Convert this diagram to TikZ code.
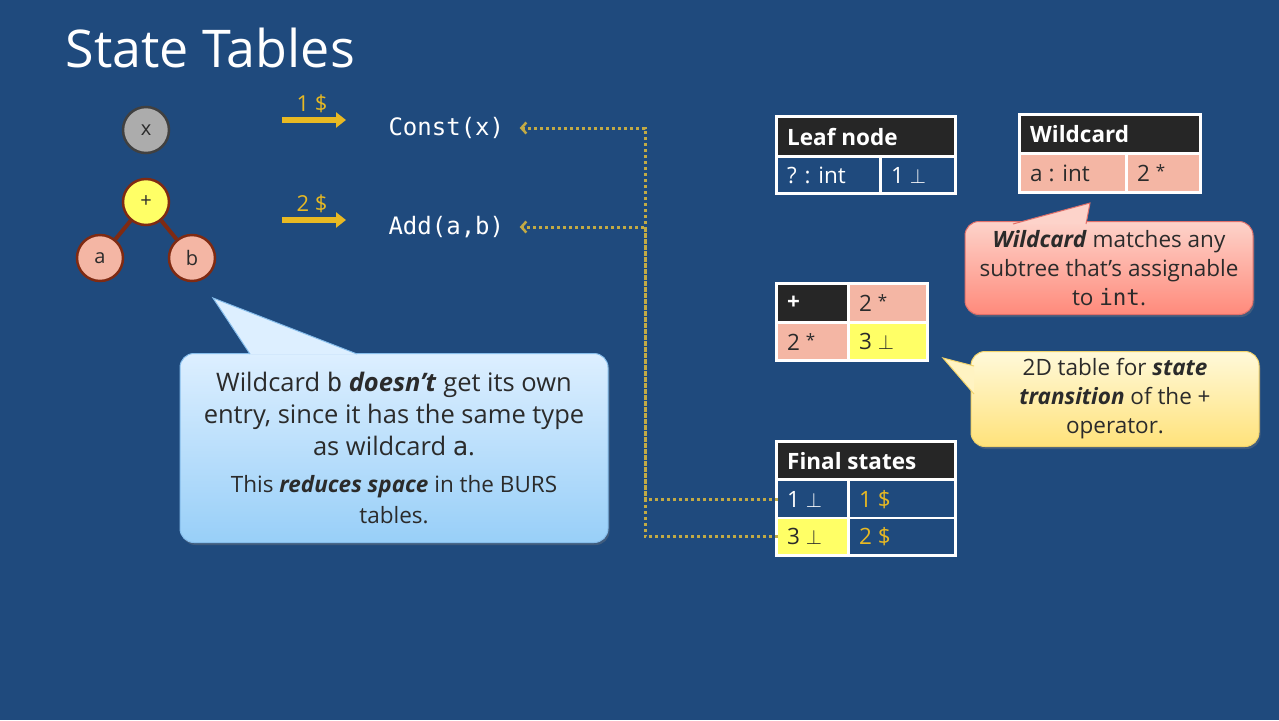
\documentclass[tikz,border=0pt]{standalone}
\usepackage{fontspec}
\setmainfont{Open Sans}
\setmonofont{DejaVu Sans Mono}
\usetikzlibrary{arrows.meta,shadows}

\definecolor{slide}{HTML}{1F4A7D}
\definecolor{hdr}{HTML}{262626}
\definecolor{salmon}{HTML}{F4B6A4}
\definecolor{lemon}{HTML}{FFFF66}
\definecolor{gold}{HTML}{E8B923}
\definecolor{dotgold}{HTML}{C2AA45}
\definecolor{rust}{HTML}{7F2A12}
\definecolor{ink}{HTML}{2B2B2B}
\definecolor{redtop}{HTML}{FDD3CA}
\definecolor{redbot}{HTML}{FF8A7B}
\definecolor{redline}{HTML}{E0706A}
\definecolor{yeltop}{HTML}{FFF9DA}
\definecolor{yelbot}{HTML}{FFE27A}
\definecolor{yelline}{HTML}{F2D36B}
\definecolor{blutop}{HTML}{DDEFFF}
\definecolor{blubot}{HTML}{98CFF8}
\definecolor{bluline}{HTML}{86BDEB}

\tikzset{
  leaf/.style={circle, minimum size=46pt, inner sep=0pt, line width=2.5pt, draw=rust, text=ink, font=\fontsize{20}{22}\selectfont},
  treeedge/.style={rust, line width=4pt},
  cell/.style={anchor=north west, inner xsep=9pt, inner ysep=0pt, align=flush left, font=\fontsize{22.5}{25}\selectfont},
  cost/.style={gold, line width=6pt, -{Triangle[length=10pt,width=15pt]}},
  dotline/.style={dotgold, line width=3pt, dash pattern=on 3pt off 3pt, -{Straight Barb[length=5pt,width=11pt,line width=2.5pt]}, shorten >=12pt},
  note/.style={rounded corners=14pt, line width=1pt, text=ink, align=center, drop shadow={opacity=.35, shadow xshift=1.5pt, shadow yshift=-2.5pt}},
}

\begin{document}
\begin{tikzpicture}[x=1pt,y=-1pt]
\fill[slide] (0,0) rectangle (1279,720);
\useasboundingbox (0,0) rectangle (1279,720);

\node[anchor=base west, text=white, font=\fontsize{52}{60}\selectfont] (title) at (62,67) {State Tables};

% trees
\node[leaf, fill=gray!65, draw=black!75] (x) at (146,130) {x};
\node[leaf, fill=lemon] (plus) at (146,202) {+};
\node[leaf, fill=salmon] (a) at (100,258) {a};
\node[leaf, fill=salmon] (b) at (192,258) {b};
\draw[treeedge] (plus) -- (a);
\draw[treeedge] (plus) -- (b);

% costs
\draw[cost] (282,120) -- (346,120);
\node[text=gold, font=\fontsize{22}{24}\selectfont] (c1) at (312,104) {1 \$};
\draw[cost] (282,220) -- (346,220);
\node[text=gold, font=\fontsize{22}{24}\selectfont] (c2) at (312,204) {2 \$};

\node[anchor=west, text=white, font=\ttfamily\fontsize{24}{26}\selectfont] (cx) at (385,128) {Const(x)};
\node[anchor=west, text=white, font=\ttfamily\fontsize{24}{26}\selectfont] (ad) at (385,227) {Add(a,b)};

% leaf node table
\fill[white] (775,115) rectangle (957,195);
\node[cell, fill=hdr, text=white, font=\bfseries\fontsize{22.5}{25}\selectfont, text width=158pt, minimum height=37pt] (leafh) at (778,118) {Leaf node};
\node[cell, fill=slide, text=white, text width=83pt, minimum height=34pt] (leafa) at (778,158) {? : int};
\node[cell, fill=slide, text=white, text width=54pt, minimum height=34pt] (leafb) at (882,158) {1 $\perp$};

% wildcard table
\fill[white] (1018,113) rectangle (1202,194);
\node[cell, fill=hdr, text=white, font=\bfseries\fontsize{22.5}{25}\selectfont, text width=160pt, minimum height=36pt] (wildh) at (1021,116) {Wildcard};
\node[cell, fill=salmon, text=ink, text width=86pt, minimum height=36pt] (wilda) at (1021,155) {a : int};
\node[cell, fill=salmon, text=ink, text width=53pt, minimum height=36pt] (wildb) at (1128,155) {2 \raisebox{4pt}{\fontsize{17}{17}\selectfont*}};

% + table
\fill[white] (775,282) rectangle (929,362);
\node[cell, fill=hdr, text=white, font=\bfseries\fontsize{22.5}{25}\selectfont, text width=51pt, minimum height=36pt] (plush) at (778,285) {+};
\node[cell, fill=salmon, text=ink, text width=58pt, minimum height=36pt] (plusb) at (850,285) {2 \raisebox{4pt}{\fontsize{17}{17}\selectfont*}};
\node[cell, fill=salmon, text=ink, text width=51pt, minimum height=35pt] (plusc) at (778,324) {2 \raisebox{4pt}{\fontsize{17}{17}\selectfont*}};
\node[cell, fill=lemon, text=ink, text width=58pt, minimum height=35pt] (plusd) at (850,324) {3 $\perp$};

% final states table
\fill[white] (775,440) rectangle (957,557);
\node[cell, fill=hdr, text=white, font=\bfseries\fontsize{22.5}{25}\selectfont, text width=158pt, minimum height=35pt] (finh) at (778,443) {Final states};
\node[cell, fill=slide, text=white, text width=51pt, minimum height=36pt] (fs1) at (778,481) {1 $\perp$};
\node[cell, fill=slide, text=gold, text width=86pt, minimum height=36pt] (fsd1) at (850,481) {1 \$};
\node[cell, fill=lemon, text=ink, text width=51pt, minimum height=35pt] (fs2) at (778,519) {3 $\perp$};
\node[cell, fill=slide, text=gold, text width=86pt, minimum height=35pt] (fsd2) at (850,519) {2 \$};

% dotted links
\coordinate (trunk) at (645,300);
\draw[dotline] (fs1.west) -- (fs1.west -| trunk) |- (cx.east);
\draw[dotline] (fs2.west) -- (fs2.west -| trunk) |- (ad.east);

% callouts
\node[note, top color=redtop, bottom color=redbot, draw=redline, minimum width=288pt, minimum height=93pt, font=\fontsize{22.5}{29}\selectfont] (rednote) at (1109,268) {\textbf{\textit{Wildcard}} matches any\\ subtree that’s assignable\\ to \texttt{int}.};
\path[fill=redtop, draw=redline, line width=1pt] (1013,224) -- (1090,203) -- (1086,224);

\node[note, top color=yeltop, bottom color=yelbot, draw=yelline, minimum width=288pt, minimum height=95pt, font=\fontsize{22.5}{29}\selectfont] (yelnote) at (1115,399) {2D table for \textbf{\textit{state}}\\ \textbf{\textit{transition}} of the +\\ operator.};
\path[fill=yeltop!75!yelbot, draw=yelline, line width=1pt] (974,366) -- (943,358) -- (974,394);

\node[note, top color=blutop, bottom color=blubot, draw=bluline, minimum width=428pt, minimum height=189pt, text width=410pt, align=flush center, font=\fontsize{25.5}{32}\selectfont] (blunote) at (394,448) {Wildcard \texttt{b} \textbf{\textit{doesn’t}} get its own\\ entry, since it has the same type\\ as wildcard \texttt{a}.\par\vspace{6pt}\fontsize{22.5}{31}\selectfont This \textbf{\textit{reduces space}} in the BURS\\ tables.\par};
\path[fill=blutop, draw=bluline, line width=1pt] (250,354) -- (213,298) -- (357,354);
\end{tikzpicture}
\end{document}
